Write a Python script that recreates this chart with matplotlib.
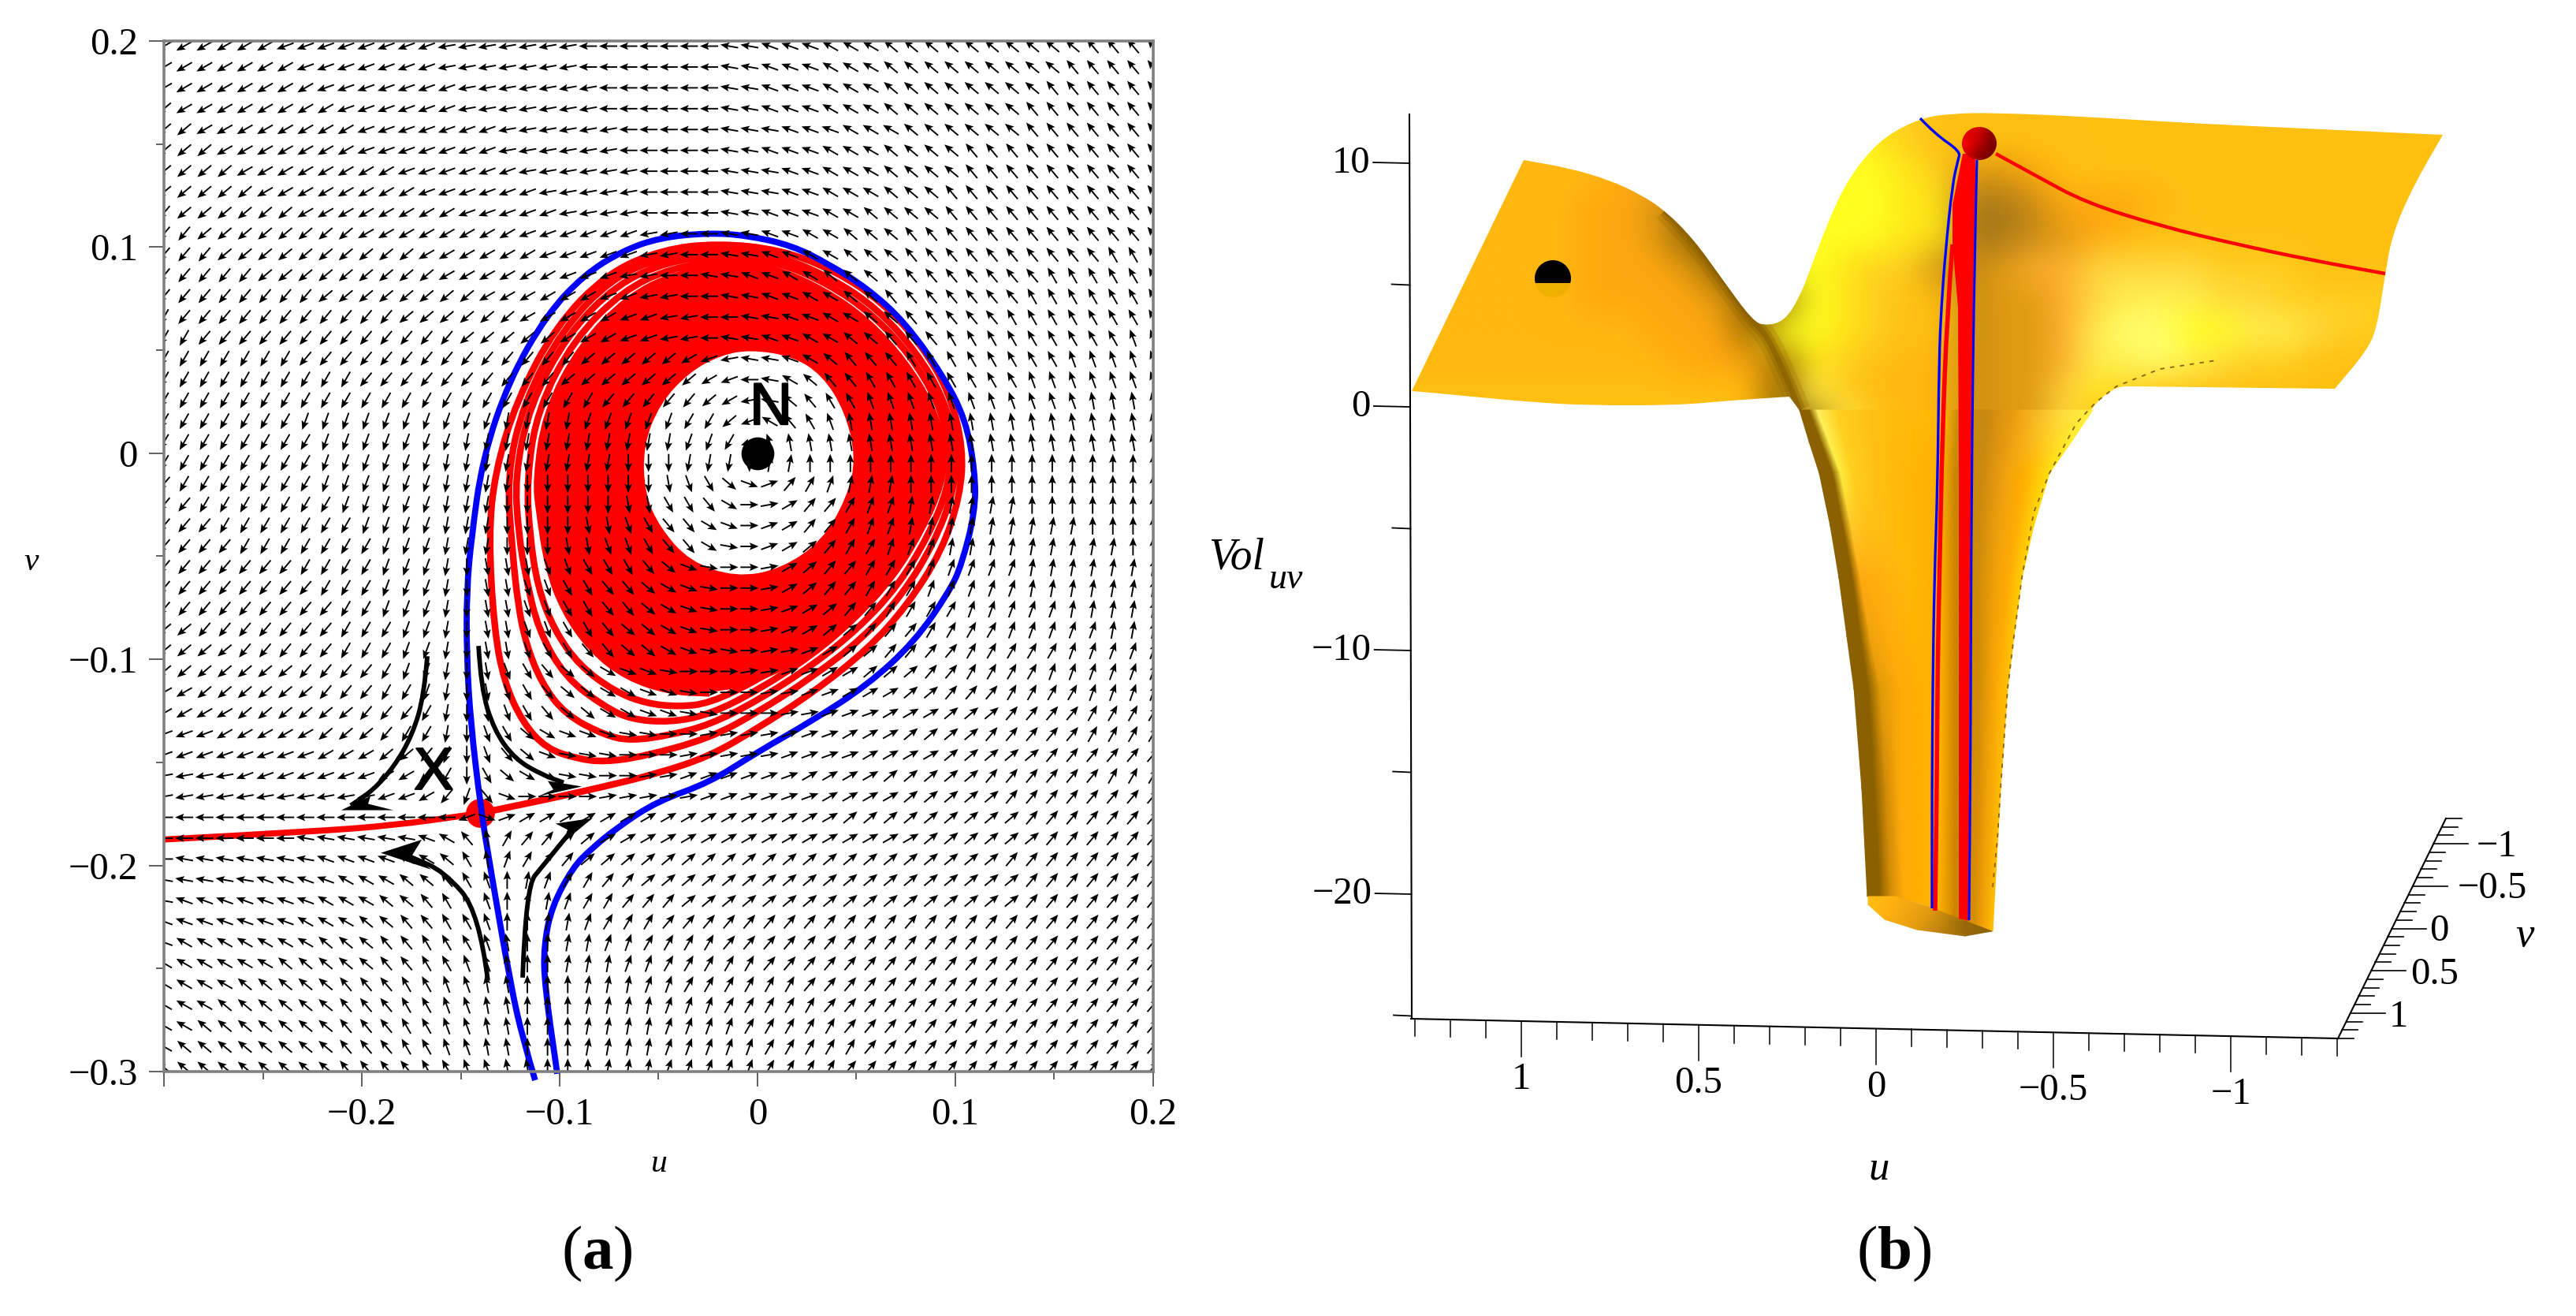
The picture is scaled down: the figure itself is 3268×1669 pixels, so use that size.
import numpy as np
import matplotlib
matplotlib.use("Agg")
import matplotlib.pyplot as plt
import matplotlib.patheffects as pe
from matplotlib.colors import to_rgb
from matplotlib.patches import Ellipse, PathPatch, Polygon, Rectangle
from matplotlib.path import Path

plt.rcParams['font.family'] = ['Liberation Serif', 'DejaVu Serif']
plt.rcParams['mathtext.fontset'] = 'custom'
plt.rcParams['mathtext.rm'] = 'Liberation Serif'
plt.rcParams['mathtext.it'] = 'Liberation Serif:italic'
plt.rcParams['mathtext.bf'] = 'Liberation Serif:bold'

W, H = 3268, 1669
RED, BLUE = '#ff0000', '#0000ff'

# ── Panel (a): direction of each field arrow, degrees, "angle x count", top row first ──
field_rows = [
    "210x6 200x8 190x7 180x7 170x2 160x3 150x3 140x10 130x4",
    "210x7 200x7 190x7 180x7 170x2 160x3 150x3 140x9 130x5",
    "210x8 200x7 190x7 180x6 170x2 160x3 150x3 140x8 130x6",
    "220x1 210x8 200x6 190x7 180x6 170x2 160x3 150x3 140x7 130x7",
    "220x2 210x8 200x7 190x6 180x5 170x3 160x3 150x3 140x6 130x7",
    "220x3 210x7 200x7 190x6 180x5 170x2 160x3 150x3 140x4 130x10",
    "220x4 210x8 200x6 190x6 180x4 170x3 160x2 150x3 140x4 130x10",
    "220x5 210x8 200x6 190x5 180x4 170x3 160x2 150x3 140x3 130x11",
    "230x1 220x6 210x8 200x5 190x4 180x4 170x2 160x3 150x2 140x4 130x11",
    "230x2 220x8 210x8 200x6 190x2 180x2 170x2 160x2 150x2 140x3 130x13",
    "230x3 220x10 210x6 200x5 190x2 180x2 170x2 160x2 150x2 140x3 130x10 120x3",
    "230x5 220x9 210x6 200x3 190x2 180x2 170x2 160x2 150x2 140x3 130x8 120x6",
    "230x8 220x8 210x6 200x2 190x2 180x2 170x2 160x2 150x2 140x2 130x7 120x7",
    "240x1 230x11 220x6 210x5 200x2 190x2 180x2 170x2 160x2 150x2 140x2 130x5 120x8",
    "240x2 230x13 220x5 210x3 200x2 190x2 180x1 170x2 160x2 150x2 140x2 130x3 120x9 110x2",
    "240x7 230x14 220x5 210x1 200x1 190x1 170x2 160x1 150x1 140x1 130x3 120x8 110x5",
    "240x10 230x10 220x7 210x1 200x1 180x1 170x1 150x1 140x1 130x2 120x8 110x7",
    "240x22 230x5 220x1 210x1 190x1 170x1 140x1 130x1 120x2 110x11 100x4",
    "240x7 250x10 260x4 250x5 240x2 220x1 200x1 150x1 130x1 120x1 110x1 100x16",
    "240x8 250x7 260x11 250x2 240x1 200x1 110x1 100x19",
    "240x8 250x6 260x9 270x3 260x3 270x1 80x2 90x18",
    "230x1 240x7 250x6 260x4 270x7 280x1 290x1 300x1 320x1 340x1 20x1 50x1 60x1 70x1 80x3 90x13",
    "230x2 240x7 250x5 260x3 270x6 280x2 300x2 310x1 330x1 0x1 10x1 30x1 50x2 60x1 70x2 80x6 90x7",
    "230x3 240x7 250x4 260x3 270x4 280x2 290x1 300x1 310x2 330x1 340x1 0x1 20x1 30x1 50x2 60x1 70x2 80x9 90x4",
    "230x4 240x7 250x3 260x3 270x3 280x2 290x2 300x1 310x2 330x1 350x1 0x1 20x1 30x1 40x1 50x1 60x2 70x3 80x9 90x2",
    "230x7 240x4 250x3 260x1 270x1 280x3 290x2 300x3 310x1 320x1 340x1 350x1 0x2 10x1 30x1 40x1 50x2 60x3 70x5 80x7",
    "230x8 240x3 250x3 260x1 270x1 280x2 290x2 300x2 310x2 320x1 330x1 340x1 350x1 0x2 10x1 30x1 40x1 50x2 60x3 70x5 80x7",
    "230x9 240x2 250x3 260x1 270x1 280x2 290x2 300x2 310x2 320x1 330x1 340x1 350x1 0x2 10x1 20x1 30x1 40x1 50x2 60x4 70x5 80x5",
    "220x2 230x7 240x3 250x2 260x1 270x1 280x2 290x2 300x2 310x1 320x2 330x1 340x1 350x1 0x2 10x1 20x1 30x1 40x2 50x3 60x4 70x5 80x3",
    "220x4 230x5 240x3 250x2 260x1 270x1 280x2 290x1 300x2 310x2 320x2 330x1 340x1 350x2 0x1 10x2 20x1 30x1 40x2 50x4 60x5 70x5",
    "220x7 230x4 240x1 250x2 260x1 270x1 280x1 290x1 300x1 310x1 320x2 330x1 340x2 350x1 0x3 10x2 20x2 30x2 40x3 50x2 60x4 70x6",
    "210x2 220x6 230x3 240x2 250x1 260x1 270x1 280x1 290x1 300x1 310x1 320x2 330x2 340x2 350x1 0x3 10x2 20x2 30x3 40x2 50x3 60x4 70x4",
    "210x4 220x6 230x3 240x1 260x1 270x1 280x1 290x1 300x1 310x1 320x2 330x2 340x2 350x2 0x3 10x2 20x3 30x3 40x3 50x4 60x4",
    "200x3 210x5 220x3 230x1 240x2 260x1 270x1 290x1 300x1 320x1 330x1 340x3 350x2 0x2 10x4 20x3 30x3 40x4 50x5 60x4",
    "200x8 210x3 220x2 230x1 250x1 270x1 290x1 310x1 320x1 340x1 350x3 0x3 10x5 20x4 30x4 40x5 50x6",
    "190x4 200x7 210x2 220x1 240x1 270x1 300x1 320x1 330x1 340x1 350x2 0x2 10x2 20x6 30x4 40x5 50x6 60x3",
    "190x11 200x2 210x1 230x1 250x1 310x1 340x1 0x4 10x5 20x6 30x4 40x5 50x8",
    "180x15 200x1 340x1 20x1 30x16 40x9 50x7",
    "180x7 170x6 160x1 150x1 130x1 100x1 60x1 50x2 40x2 30x16 40x6 50x6",
    "180x1 170x7 160x4 150x2 140x1 120x1 100x1 70x1 60x1 50x2 40x21 50x8",
    "170x5 160x4 150x3 140x2 130x1 120x1 110x1 90x1 80x1 70x1 60x2 50x2 40x19 50x7",
    "170x1 160x7 150x3 140x2 130x1 120x2 110x1 90x1 80x2 70x1 60x2 50x3 40x17 50x7",
    "160x7 150x3 140x2 130x2 120x2 110x1 90x2 80x2 70x1 60x3 50x25",
    "160x1 150x7 140x3 130x2 120x3 110x1 100x1 90x2 80x2 70x2 60x4 50x22",
    "150x6 140x5 130x2 120x2 110x2 100x1 90x2 80x3 70x2 60x5 50x20",
    "150x4 140x5 130x3 120x2 110x2 100x2 90x3 80x3 70x2 60x6 50x18",
    "150x3 140x6 130x3 120x2 110x2 100x2 90x3 80x4 70x3 60x5 50x17",
    "150x2 140x7 130x3 120x2 110x2 100x2 90x3 80x4 70x4 60x5 50x16",
    "150x1 140x8 130x3 120x2 110x2 100x2 90x3 80x4 70x5 60x5 50x15",
    "140x9 130x4 120x2 110x2 100x2 90x3 80x3 70x5 60x4 50x16",
]

# ── Panel (a): trajectories in (u, v) ──
blue_separatrix = [
    (-0.1124, -0.3042), (-0.1187, -0.2839), (-0.1247, -0.2582), (-0.1351, -0.2008), (-0.1398, -0.1728),
    (-0.1450, -0.1307), (-0.1470, -0.0985), (-0.1470, -0.0667), (-0.1446, -0.0410), (-0.1390, -0.0027),
    (-0.1255, 0.0356), (-0.1064, 0.0674), (-0.0876, 0.0866), (-0.0685, 0.0981), (-0.0494, 0.1046),
    (-0.0247, 0.1069), (-0.0056, 0.1057), (0.0175, 0.1008), (0.0363, 0.0916), (0.0554, 0.0801),
    (0.0745, 0.0636), (0.0936, 0.0379), (0.1052, 0.0165), (0.1100, -0.0092), (0.1100, -0.0284),
    (0.1032, -0.0540), (0.0972, -0.0667), (0.0793, -0.0916), (0.0554, -0.1126), (0.0275, -0.1299),
    (-0.0004, -0.1452), (-0.0243, -0.1598), (-0.0510, -0.1690), (-0.0709, -0.1816), (-0.0841, -0.1920),
    (-0.0932, -0.2008), (-0.1040, -0.2199), (-0.1080, -0.2391), (-0.1076, -0.2582), (-0.1012, -0.3011),
]
red_incoming = [(-0.3, -0.1874), (-0.2235, -0.1835), (-0.1837, -0.1805), (-0.149, -0.1759), (-0.1402, -0.1747)]
red_turn1 = [
    (-0.1402, -0.1747), (-0.1331, -0.1732), (-0.1040, -0.1674), (-0.0773, -0.1617), (-0.0510, -0.1555),
    (-0.0243, -0.1471), (-0.0004, -0.1337), (0.0275, -0.1165), (0.0554, -0.0954), (0.0753, -0.0743),
    (0.0932, -0.0475), (0.1024, -0.0207), (0.1040, 0.0023), (0.0972, 0.0291), (0.0833, 0.0521),
    (0.0633, 0.0732), (0.0394, 0.0885), (0.0116, 0.0988), (-0.0203, 0.1019), (-0.0482, 0.0988),
    (-0.0761, 0.0873), (-0.1020, 0.0617), (-0.1219, 0.0253), (-0.1327, -0.0092), (-0.1359, -0.0398),
    (-0.1331, -0.0858), (-0.1279, -0.1115), (-0.1187, -0.1306), (-0.1068, -0.1433), (-0.0908, -0.1483),
    (-0.0773, -0.1498), (-0.0574, -0.1471), (-0.0243, -0.1383),
]
red_turn2 = [
    (-0.0004, -0.1260), (0.0275, -0.1088), (0.0534, -0.0896), (0.0733, -0.0686),
    (0.0892, -0.0437), (0.0992, -0.0188), (0.1008, 0.0023), (0.0940, 0.0272), (0.0801, 0.0494),
    (0.0606, 0.0701), (0.0375, 0.0850), (0.0108, 0.0958), (-0.0195, 0.0988), (-0.0470, 0.0958),
    (-0.0741, 0.0847), (-0.0988, 0.0598), (-0.1183, 0.0245), (-0.1267, -0.0111), (-0.1239, -0.0475),
    (-0.1211, -0.0732), (-0.1171, -0.0923), (-0.1092, -0.1115), (-0.0972, -0.1268), (-0.0773, -0.1368),
    (-0.0641, -0.1395), (-0.0442, -0.1368), (-0.0243, -0.1318),
]
red_turn3 = [
    (-0.0004, -0.1203), (0.0275, -0.1031), (0.0514, -0.0847), (0.0713, -0.0640),
    (0.0865, -0.0398), (0.0964, -0.0169), (0.0980, 0.0023), (0.0912, 0.0253), (0.0773, 0.0475),
    (0.0582, 0.0674), (0.0355, 0.0824), (0.0096, 0.0931), (-0.0187, 0.0962), (-0.0450, 0.0931),
    (-0.0713, 0.0820), (-0.0960, 0.0578), (-0.1151, 0.0234), (-0.1227, -0.0111), (-0.1207, -0.0398),
    (-0.1171, -0.0601), (-0.1108, -0.0858), (-0.0972, -0.1088), (-0.0773, -0.1230), (-0.0641, -0.1291),
    (-0.0442, -0.1306), (-0.0243, -0.1268),
]
red_turn4 = [
    (-0.0004, -0.1153), (0.0275, -0.0981), (0.0494, -0.0801), (0.0685, -0.0601),
    (0.0833, -0.0368), (0.0932, -0.0149), (0.0948, 0.0023), (0.0880, 0.0234), (0.0745, 0.0444),
    (0.0558, 0.0644), (0.0335, 0.0793), (0.0084, 0.0900), (-0.0179, 0.0931), (-0.0434, 0.0900),
    (-0.0681, 0.0789), (-0.0928, 0.0552), (-0.1112, 0.0215), (-0.1167, -0.0130), (-0.1151, -0.0398),
    (-0.1112, -0.0647), (-0.1028, -0.0858), (-0.0900, -0.1031), (-0.0721, -0.1157), (-0.0562, -0.1214),
    (-0.0402, -0.1230), (-0.0243, -0.1214),
]
red_turn5 = [
    (-0.0004, -0.1103), (0.0275, -0.0935), (0.0482, -0.0755), (0.0661, -0.0559),
    (0.0805, -0.0337), (0.0904, -0.0130), (0.0920, 0.0023), (0.0853, 0.0215), (0.0717, 0.0414),
    (0.0534, 0.0613), (0.0315, 0.0762), (0.0076, 0.0870), (-0.0171, 0.0900), (-0.0418, 0.0870),
    (-0.0653, 0.0759), (-0.0896, 0.0521), (-0.1072, 0.0195), (-0.1120, -0.0130), (-0.1104, -0.0283),
    (-0.1060, -0.0552), (-0.0980, -0.0762), (-0.0841, -0.0954), (-0.0661, -0.1088), (-0.0442, -0.1157),
    (-0.0243, -0.1165),
]
red_solid = [
    (-0.0187, 0.0931), (0.0084, 0.0900), (0.0335, 0.0793), (0.0558, 0.0644), (0.0745, 0.0444),
    (0.0880, 0.0234), (0.0948, 0.0023), (0.0932, -0.0149), (0.0833, -0.0368), (0.0685, -0.0601),
    (0.0494, -0.0801), (0.0275, -0.0981), (-0.0004, -0.1120), (-0.0243, -0.1165), (-0.0442, -0.1150),
    (-0.0641, -0.1080), (-0.0821, -0.0973), (-0.0960, -0.0800), (-0.1040, -0.0600), (-0.1090, -0.0398),
    (-0.1120, -0.0130), (-0.1072, 0.0195), (-0.0896, 0.0521), (-0.0653, 0.0759), (-0.0418, 0.0870),
]
red_hole = [
    (-0.0036, 0.0502), (0.0175, 0.0471), (0.0327, 0.0379), (0.0442, 0.0203), (0.0498, -0.0027),
    (0.0450, -0.0218), (0.0327, -0.0425), (0.0116, -0.0563), (-0.0112, -0.0601), (-0.0343, -0.0525),
    (-0.0494, -0.0360), (-0.0570, -0.0195), (-0.0578, 0.0034), (-0.0494, 0.0241), (-0.0343, 0.0395),
    (-0.0187, 0.0475),
]
flow_a = [(-0.1669, -0.0985), (-0.1685, -0.1176), (-0.1745, -0.1368), (-0.1837, -0.1521), (-0.1944, -0.1636), (-0.2056, -0.1709)]
head_a = [(-0.2104, -0.1732), (-0.1956, -0.1663), (-0.1968, -0.1701), (-0.1840, -0.1732)]
flow_b = [(-0.1410, -0.0935), (-0.1398, -0.1138), (-0.1331, -0.1345), (-0.1227, -0.1483), (-0.1092, -0.1559), (-0.0980, -0.1598)]
head_b = [(-0.0888, -0.1617), (-0.1060, -0.1590), (-0.1032, -0.1632), (-0.1110, -0.1665)]
flow_c = [(-0.1187, -0.2544), (-0.1171, -0.2103), (-0.1080, -0.1996), (-0.0960, -0.1854)]
head_c = [(-0.0833, -0.1770), (-0.1020, -0.1797), (-0.0960, -0.1827), (-0.0985, -0.1890)]
flow_d = [(-0.1363, -0.2559), (-0.1406, -0.2226), (-0.1586, -0.2027), (-0.1750, -0.1960)]
head_d = [(-0.1904, -0.1939), (-0.1697, -0.1875), (-0.1745, -0.1950), (-0.1649, -0.2020)]

# ── Panel (b): projected surface, read in picture pixels (doubled points stay sharp) ──
surface_outline = [
    (1933, 203), (1933, 203), (1990, 213), (2041, 228), (2082, 247), (2112, 267), (2148, 303), (2184, 353), (2224, 408),
    (2241, 413), (2264, 407), (2283, 377), (2296, 343), (2312, 300), (2334, 247), (2359, 207), (2391, 173),
    (2436, 150), (2474, 144), (2532, 143), (2646, 148), (2774, 156), (2902, 162), (3099, 171), (3099, 171), (3061, 237),
    (3035, 297), (3026, 347), (3016, 413), (3004, 443), (2962, 493), (2962, 493), (2870, 492), (2710, 490), (2685, 490),
    (2659, 510), (2640, 540), (2640, 540), (2295, 540), (2295, 540), (2283, 520), (2270, 503), (2270, 503), (2194, 508),
    (2128, 514), (2010, 514), (1944, 510), (1867, 503), (1816, 498), (1791, 496), (1791, 496),
]
# colour cells every 40 px, from x=1780 and y=140, smoothed by imshow
shade_palette = {
    'a': '#ffc010', 'b': '#ffb80f', 'c': '#ffa810', 'd': '#e09a12', 'e': '#a87818', 'f': '#8b6000', 'g': '#ffff20',
    'h': '#ffe618', 'i': '#ffce20', 'j': '#ffff70', 'k': '#ffb030', 'l': '#c88a15', 'm': '#ffd840', 'n': '#fff050',
}
shade_rows = [
    "bbbbbbbbbbbbbbghiaaaaaaaaaaaaaaaaa",
    "bbbbbbbbbbbbbgghiaaaaaaaaaaaaaaaaa",
    "bbbbbbbccdgggggghiddcaaaaaaaaaaaaa",
    "bbbbbbccdegggggghheelcccbaaaaaaaaa",
    "bbbbbbccdffggggghheeldcbaaaaaaaaaa",
    "bbbbbbcccdffgghiilldkkmmmmiiiaaaaa",
    "bbbbbbccccdffghiaalddkmnnnmmiiiiii",
    "bbbbbbbbcccfgghiaalddknjjggnnmiiaa",
    "bbbbbbbbbcccfhiabblddknnjnmiiaaaaa",
    "aaaaaaaaaaabfnibbblddmhiaaaaaaaaaa",
    "aaaaaaaaaaaaffnibblddmaaaaaaaaaaaa",
]
# well of the surface: x of each node on the rows across it
well_y = [520, 560, 600, 667, 733, 807, 873, 1000]
well_x = [
    [2283, 2295, 2305, 2330, 2375, 2452, 2466, 2482, 2520, 2560, 2620, 2655],
    [2295, 2310, 2320, 2340, 2379, 2451, 2465, 2481, 2518, 2552, 2592, 2628],
    [2308, 2325, 2335, 2350, 2383, 2450, 2463, 2480, 2515, 2543, 2570, 2600],
    [2322, 2338, 2348, 2367, 2402, 2451, 2462, 2480, 2512, 2536, 2560, 2580],
    [2333, 2350, 2360, 2385, 2420, 2452, 2462, 2480, 2510, 2530, 2550, 2565],
    [2343, 2360, 2372, 2398, 2430, 2452, 2462, 2480, 2510, 2527, 2542, 2555],
    [2352, 2370, 2385, 2410, 2440, 2452, 2462, 2480, 2510, 2525, 2535, 2547],
    [2362, 2378, 2392, 2410, 2440, 2452, 2462, 2480, 2510, 2520, 2530, 2538],
]
well_rim_x = [2369, 2385, 2398, 2415, 2440, 2452, 2460, 2480, 2505, 2515, 2522, 2528]
well_rim_y = [1137, 1137, 1138, 1140, 1147, 1152, 1155, 1163, 1172, 1176, 1179, 1181]
well_colors = [
    ['#8b6000', '#8b6000', '#fff060', '#ffd020', '#ffbf10', '#ffb808', '#ffb808', '#d09010', '#c88810', '#f0a010', '#ffe040', '#fff040'],
    ['#8b6000', '#8b6000', '#fff050', '#ffd020', '#ffbf10', '#ffb404', '#ffb404', '#cc8a08', '#ca8910', '#f0a010', '#ffc820', '#fff030'],
    ['#8b6000', '#8b6000', '#ffee40', '#ffd020', '#ffbf10', '#ffb000', '#ffb000', '#c88500', '#cc8a10', '#f0a010', '#ffb000', '#ffe010'],
    ['#8b6000', '#8b6000', '#ffc828', '#ffc018', '#ffbc0c', '#ffb000', '#ffb000', '#ca8500', '#ce8b0c', '#f0a00c', '#ffb004', '#ffd808'],
    ['#8b6000', '#8b6000', '#ffaa10', '#ffb010', '#ffb808', '#ffb000', '#ffb000', '#cc8400', '#d08c08', '#f0a008', '#ffae05', '#ffd000'],
    ['#8b6000', '#8b6000', '#f0a20c', '#ffad0c', '#ffb404', '#ffb000', '#ffb000', '#cc8400', '#d08c08', '#f0a006', '#ffae05', '#ffc800'],
    ['#8b6000', '#8b6000', '#e09a08', '#ffaa08', '#ffb000', '#ffb000', '#ffb000', '#cc8400', '#d08c08', '#f0a005', '#ffae05', '#ffc000'],
    ['#8b6000', '#8b6000', '#d08a08', '#ffaa08', '#ffb000', '#ffb000', '#ffb000', '#cc8400', '#d98e08', '#f0a005', '#f9ae05', '#ffc000'],
    ['#8b6000', '#8b6000', '#d08a08', '#ffaa08', '#ffb000', '#ffb000', '#ffb000', '#cc8400', '#d98e08', '#f0a005', '#f9ae05', '#ffc000'],
]
cap_top_x = [2370, 2405, 2452, 2493, 2527]
cap_top_y = [1137, 1137, 1152, 1168, 1181]
cap_bot_x = [2370, 2391, 2432, 2493, 2527]
cap_bot_y = [1147, 1166, 1179, 1187, 1181]
cap_colors = ['#ffbe10', '#ffb010', '#e09a10', '#98680a', '#8c6408']
ridge_line = [(2112, 267), (2148, 303), (2184, 353), (2224, 408), (2241, 425), (2264, 473), (2283, 520)]
saw_edge = [(2528, 1125), (2534, 1064), (2538, 1000), (2547, 873), (2555, 807), (2565, 733), (2580, 650), (2600, 600),
            (2634, 537), (2659, 510), (2685, 490), (2740, 468), (2812, 457)]
blue_left = [(2436, 150), (2455, 170), (2487, 192), (2484, 203), (2477, 233), (2468, 320), (2463, 387), (2460, 453),
             (2458, 620), (2454, 733), (2452, 867), (2451, 1000), (2451, 1152)]
blue_right = [(2508, 203), (2505, 320), (2501, 620), (2500, 950), (2498, 1167)]
red_thin = [(2477, 310), (2470, 400), (2464, 560), (2461, 700), (2458, 850), (2457, 1000), (2455, 1155)]
red_thick = [(2490, 195), (2477, 260), (2477, 310), (2484, 390), (2485, 600), (2485, 1165), (2498, 1168), (2499, 800),
             (2501, 600), (2504, 320), (2506, 240), (2506, 195)]
red_surface = [(2532, 195), (2583, 223), (2646, 257), (2742, 287), (2838, 310), (2933, 330), (3026, 347)]
ball_shade = [['#e00000', '#d00000', '#900000'], ['#f00000', '#b80000', '#800000'], ['#d00000', '#900000', '#780000']]

z_ticks = [10, 5, 0, -5, -10, -15, -20, -25]
z_labels = {10: '10', 0: '0', -10: '\u221210', -20: '\u221220'}
u_labels = {1: '1', 0.5: '0.5', 0: '0', -0.5: '\u22120.5', -1: '\u22121'}
v_labels = {-1: ('\u22121', 3167, 1074), -0.5: ('\u22120.5', 3162, 1127), 0: ('0', 3094, 1181),
            0.5: ('0.5', 3089, 1236), 1: ('1', 3043, 1290)}


def xy(points):
    a = np.array(points, dtype=float)
    return a[:, 0], a[:, 1]


def smooth_path(points, closed=False):
    # quadratic Bezier pieces through the read points, so the renderer draws a curve
    p = np.array(points, dtype=float)
    if closed:
        verts = [(p[-1] + p[0]) / 2]
        codes = [Path.MOVETO]
        for i in range(len(p)):
            verts += [p[i], (p[i] + p[(i + 1) % len(p)]) / 2]
            codes += [Path.CURVE3, Path.CURVE3]
        verts.append(verts[0])
        codes.append(Path.CLOSEPOLY)
    else:
        verts = [p[0]]
        codes = [Path.MOVETO]
        for i in range(1, len(p) - 1):
            verts += [p[i], (p[i] + p[i + 1]) / 2]
            codes += [Path.CURVE3, Path.CURVE3]
        verts.append(p[-1])
        codes.append(Path.LINETO)
    return Path(np.array(verts), codes)


def draw_curve(ax, points, color, lw, zorder, clip_on=True, capstyle='butt'):
    ax.add_patch(PathPatch(smooth_path(points), fc='none', ec=color, lw=lw, zorder=zorder,
                           clip_on=clip_on, capstyle=capstyle, joinstyle='round'))


# ── Figure ─────────────────────────────────────────────────────────────────────
fig = plt.figure(figsize=(W / 100, H / 100), dpi=100, facecolor='white')

# full-figure axes in picture pixels for the projected 3D panel and captions
ax_b = fig.add_axes([0, 0, 1, 1])
ax_b.set_xlim(0, W)
ax_b.set_ylim(H, 0)
ax_b.axis('off')

ax_a = fig.add_axes([208 / W, (H - 1359) / H, 1255 / W, 1307 / H])
ax_a.set_xlim(-0.3, 0.2)
ax_a.set_ylim(-0.3, 0.2)

# ── Panel (a) ──────────────────────────────────────────────────────────────────
ax_a.add_patch(PathPatch(smooth_path(red_solid, closed=True), fc=RED, lw=0, zorder=2))
ax_a.add_patch(PathPatch(smooth_path(red_hole, closed=True), fc='white', lw=0, zorder=2.5))
draw_curve(ax_a, red_incoming, RED, 5.6, 2.2)
draw_curve(ax_a, red_turn1 + red_turn2 + red_turn3 + red_turn4 + red_turn5, RED, 6.1, 2.2)
ax_a.scatter([-0.1402], [-0.1747], s=700, color=RED, lw=0, zorder=3)
draw_curve(ax_a, blue_separatrix, BLUE, 5.6, 3.2, clip_on=False)

angles = []
for row in field_rows:
    cells = []
    for run in row.split():
        a, n = run.split('x')
        cells += [float(a)] * int(n)
    angles.append(cells)
angles = np.radians(np.array(angles))
grid_u, grid_v = np.meshgrid(np.linspace(-0.3, 0.2, 50), np.linspace(0.1975, -0.298, 50))
ax_a.quiver(grid_u, grid_v, 23 * np.cos(angles), 23 * np.sin(angles), angles='uv', units='dots', scale_units='dots',
            scale=1, pivot='mid', width=1.9, headwidth=5, headlength=6, headaxislength=5, color='black', zorder=4)

for line, head in [(flow_a, head_a), (flow_b, head_b), (flow_c, head_c), (flow_d, head_d)]:
    draw_curve(ax_a, line, 'black', 4.2, 5)
    ax_a.add_patch(Polygon(head, closed=True, color='black', lw=0, zorder=5))
ax_a.scatter([0], [0], s=900, color='black', lw=0, zorder=5)
letter_edge = [pe.withStroke(linewidth=1.6, foreground='black')]
ax_a.text(0.0068, 0.0215, 'N', family='Liberation Sans', fontsize=54, ha='center', va='center', zorder=6,
          path_effects=letter_edge)
ax_a.text(-0.1637, -0.1555, 'X', family='Liberation Sans', fontsize=54, ha='center', va='center', zorder=6,
          path_effects=letter_edge)

for side in ax_a.spines.values():
    side.set_color('#808080')
    side.set_linewidth(2.6)
    side.set_zorder(7)
ax_a.set_xticks([-0.3, -0.2, -0.1, 0, 0.1, 0.2])
ax_a.set_xticks([-0.25, -0.15, -0.05, 0.05, 0.15], minor=True)
ax_a.set_yticks([-0.3, -0.2, -0.1, 0, 0.1, 0.2])
ax_a.set_yticks([-0.25, -0.15, -0.05, 0.05, 0.15], minor=True)
ax_a.set_xticklabels(['', '\u22120.2', '\u22120.1', '0', '0.1', '0.2'])
ax_a.set_yticklabels(['\u22120.3', '\u22120.2', '\u22120.1', '0', '0.1', '0.2'])
ax_a.tick_params(which='major', length=14, width=1.2, color='#444444', labelsize=35, pad=10)
ax_a.tick_params(which='minor', length=7, width=1.2, color='#444444')
ax_b.text(836, 1476, 'u', style='italic', fontsize=30, ha='center', va='center')
ax_b.text(40, 713, 'v', style='italic', fontsize=30, ha='center', va='center')
ax_b.text(757, 1590, r'($\mathbf{a}$)', fontsize=57, ha='center', va='center')

# ── Panel (b): surface ─────────────────────────────────────────────────────────
outline = PathPatch(smooth_path(surface_outline, closed=True), transform=ax_b.transData, fc='none', ec='none')
ax_b.add_patch(outline)
shade = np.array([[to_rgb(shade_palette[ch]) for ch in row] for row in shade_rows])
im = ax_b.imshow(shade, extent=(1760, 3120, 560, 120), interpolation='bicubic', aspect='auto', zorder=1)
im.set_clip_path(outline)
for width, alpha in [(20, 0.22), (11, 0.4), (5, 0.7)]:
    ln = PathPatch(smooth_path(ridge_line), fc='none', ec='#8b6000', lw=width, alpha=alpha, zorder=1.5)
    ax_b.add_patch(ln)
    ln.set_clip_path(outline)

mesh_x = np.array(well_x + [well_rim_x], dtype=float)
mesh_y = np.array([[y] * 12 for y in well_y] + [well_rim_y], dtype=float)
mesh_c = np.array([[to_rgb(c) for c in row] for row in well_colors])
ax_b.pcolormesh(mesh_x, mesh_y, mesh_c, shading='gouraud', zorder=2)
cap_x = np.array([cap_top_x, cap_bot_x], dtype=float)
cap_y = np.array([cap_top_y, cap_bot_y], dtype=float)
cap_c = np.array([[to_rgb(c) for c in cap_colors]] * 2)
ax_b.pcolormesh(cap_x, cap_y, cap_c, shading='gouraud', zorder=2.1)
ax_b.plot(*xy(saw_edge), color='#8b6000', lw=1.3, ls=(0, (3, 4)), zorder=2.2)

ax_b.add_patch(Polygon(red_thick, closed=True, color=RED, lw=0, zorder=3))
draw_curve(ax_b, red_thin, RED, 4, 3)
draw_curve(ax_b, blue_left, BLUE, 2.4, 3.2)
draw_curve(ax_b, blue_right, BLUE, 2.2, 3.2)
draw_curve(ax_b, red_surface, RED, 3.2, 3.2)

# saddle ball and node ball
ball_clip = Ellipse((2511, 182), 44, 42, transform=ax_b.transData, fc='none', ec='none')
ax_b.add_patch(ball_clip)
ball_rgb = np.array([[to_rgb(c) for c in row] for row in ball_shade])
ball = ax_b.imshow(ball_rgb, extent=(2489, 2533, 203, 161), interpolation='bilinear', aspect='auto', zorder=4)
ball.set_clip_path(ball_clip)
ax_b.add_patch(Ellipse((1970, 357), 44, 40, color='#f0b000', lw=0, zorder=3))
dot = Ellipse((1970, 353), 46, 46, color='black', lw=0, zorder=4)
ax_b.add_patch(dot)
dot.set_clip_path(Rectangle((1940, 320), 60, 39, transform=ax_b.transData))
ax_b.set_xlim(0, W)
ax_b.set_ylim(H, 0)

# ── Panel (b): axes ────────────────────────────────────────────────────────────
ax_b.plot([1788, 1791], [145, 1290], color='black', lw=1.5, zorder=6)
for z in z_ticks:
    y = 516 - 30.9 * z
    x_end = 1788 + (y - 145) * 3 / 1145
    length = 46 if z in z_labels else 23
    ax_b.plot([x_end - length, x_end], [y - 1, y], color='black', lw=1.3, zorder=6)
    if z in z_labels:
        ax_b.text(x_end - 50, y, z_labels[z], fontsize=35, ha='right', va='center')

ax_b.plot([1790, 2966], [1292, 1317], color='black', lw=1.5, zorder=6)
for i in range(-13, 14):
    u = i / 10
    x = 2380 - 450 * u
    y = 1292 + (x - 1790) * 25 / 1176
    length = 45 if u in u_labels else 22
    ax_b.plot([x, x], [y, y + length], color='black', lw=1.1, zorder=6)
    if u in u_labels:
        ax_b.text(x, y + 74, u_labels[u], fontsize=35, ha='center', va='center')

ax_b.plot([2966, 3103], [1317, 1038], color='black', lw=1.5, zorder=6)
for i in range(-13, 14):
    v = i / 10
    x = 3034.5 - 52.7 * v
    y = 1177.5 + 107.3 * v
    length = 44 if v in v_labels else 20
    ax_b.plot([x, x + length], [y, y], color='black', lw=1.2, zorder=6)
for text, x, y in v_labels.values():
    ax_b.text(x, y, text, fontsize=35, ha='center', va='center')

ax_b.text(1533, 721, 'Vol', style='italic', fontsize=40, ha='left', va='baseline')
ax_b.text(1610, 746, 'uv', style='italic', fontsize=33, ha='left', va='baseline')
ax_b.text(2384, 1482, 'u', style='italic', fontsize=38, ha='center', va='center')
ax_b.text(3203, 1187, 'v', style='italic', fontsize=38, ha='center', va='center')
ax_b.text(2403, 1590, r'($\mathbf{b}$)', fontsize=57, ha='center', va='center')

fig.savefig('out.png', dpi=100)
